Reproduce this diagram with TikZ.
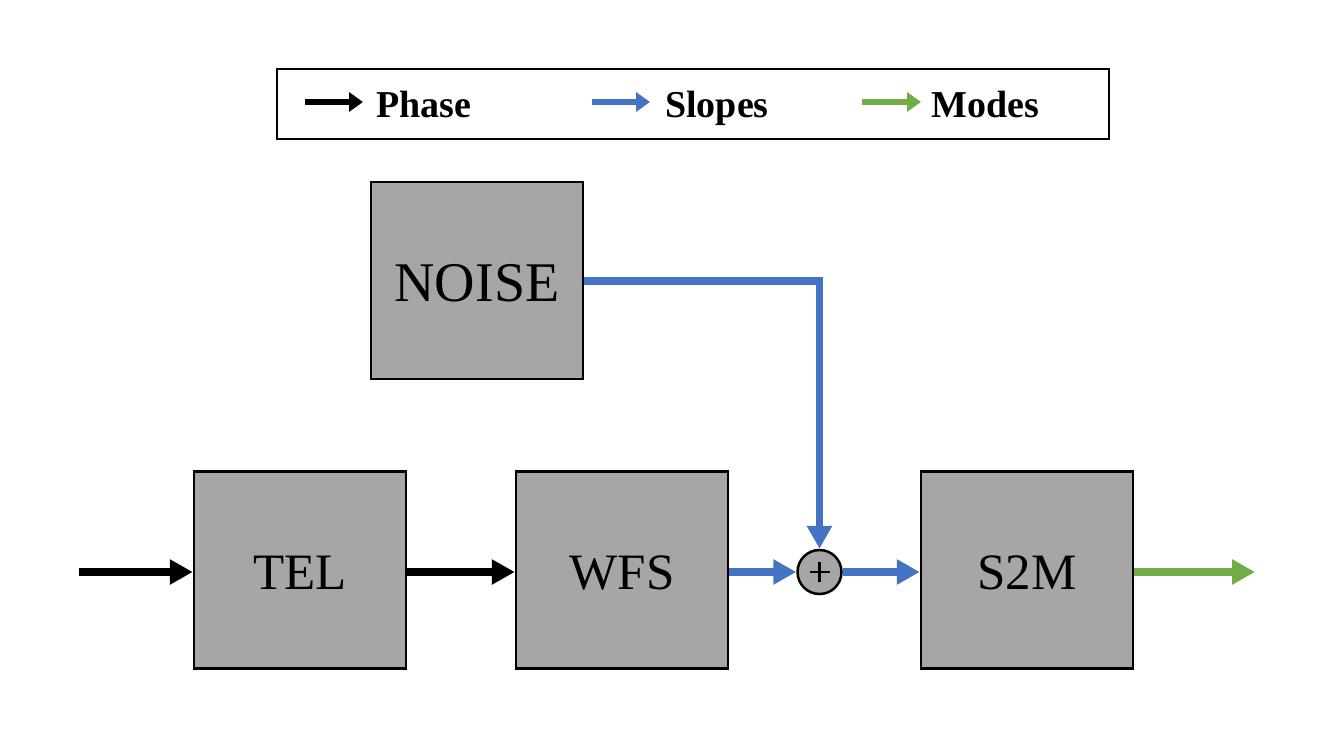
\documentclass[tikz,border=0pt]{standalone}
\usepackage{fontspec}
\setmainfont{Liberation Serif}
\usetikzlibrary{arrows.meta}
\definecolor{boxgray}{HTML}{A6A6A6}
\definecolor{slopeblue}{HTML}{4472C4}
\definecolor{modegreen}{HTML}{70AD47}
\tikzset{
  block/.style={draw=black, line width=2.5pt, fill=boxgray, minimum width=212pt, minimum height=197pt, inner sep=0pt},
  blocktext/.style={anchor=base, inner sep=0pt, font=\fontsize{51}{56}\selectfont},
  flow/.style={line width=7.5pt, -{Triangle[length=23pt,width=24pt]}},
  legarrow/.style={line width=5.5pt, -{Triangle[length=14pt,width=19pt]}},
  legtext/.style={anchor=base west, inner sep=0pt, font=\fontsize{38}{42}\selectfont\bfseries},
}
\begin{document}
\begin{tikzpicture}[x=1pt,y=-1pt]
\useasboundingbox (0,0) rectangle (1334,750);
% legend
\node[draw=black, line width=2pt, minimum width=832pt, minimum height=70pt, inner sep=0pt] (legend) at (692.5,103.5) {};
\coordinate (pa) at (305,102);
\coordinate (pb) at (363,102);
\coordinate (sa) at (592,102);
\coordinate (sb) at (650,102);
\coordinate (ma) at (862,102);
\coordinate (mb) at (921,102);
\draw[legarrow, black] (pa) -- (pb);
\draw[legarrow, slopeblue] (sa) -- (sb);
\draw[legarrow, modegreen] (ma) -- (mb);
\node[legtext] (lphase) at (376,117) {Phase};
\node[legtext] (lslopes) at (665,117) {Slopes};
\node[legtext] (lmodes) at (931,117) {Modes};
% blocks
\node[block] (noise) at (477,280.5) {};
\node[block] (tel) at (300,570) {};
\node[block] (wfs) at (622,570) {};
\node[block] (s2m) at (1027,570) {};
\node[blocktext, font=\fontsize{56}{60}\selectfont] (tnoise) at (477,301) {NOISE};
\node[blocktext] (ttel) at (300,589) {TEL};
\node[blocktext] (twfs) at (622,589) {WFS};
\node[blocktext] (ts2m) at (1027,589) {S2M};
\node[draw=black, line width=2.5pt, fill=boxgray, circle, minimum size=44pt, inner sep=0pt] (sum) at (819.5,572) {};
\draw[line width=2.5pt] ([xshift=-10pt]sum.center) -- ([xshift=10pt]sum.center);
\draw[line width=2.5pt] ([yshift=-10pt]sum.center) -- ([yshift=10pt]sum.center);
% connectors
\coordinate (in) at (79,572);
\coordinate (out) at (1255,572);
\draw[flow, black] (in) -- (tel.west |- in);
\draw[flow, black] (tel.east |- in) -- (wfs.west |- in);
\draw[flow, slopeblue] (wfs.east |- sum) -- (sum.west);
\draw[flow, slopeblue] (sum.east) -- (s2m.west |- sum);
\draw[flow, modegreen] (s2m.east |- out) -- (out);
\draw[flow, slopeblue] (noise.east |- 0,281) -| (sum.north);
\end{tikzpicture}
\end{document}
